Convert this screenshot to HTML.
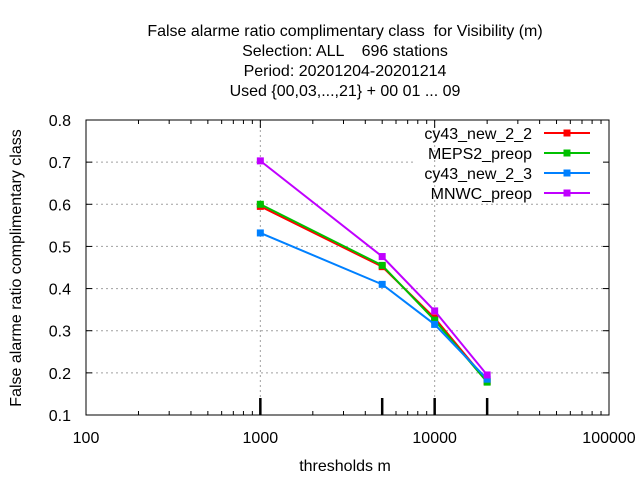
<!DOCTYPE html>
<html><head><meta charset="utf-8"><style>body{margin:0;background:#fff}svg{display:block;font-family:"Liberation Sans",sans-serif}text{white-space:pre}</style></head>
<body>
<svg id="c" width="640" height="480"></svg>
<script>
const thresholds=[1000,5000,10000,20000];
const seriesNames=["cy43_new_2_2","MEPS2_preop","cy43_new_2_3","MNWC_preop"];
const colors=["#ff0000","#00c000","#0080ff","#c000ff"];
const s1=[0.595,0.452,0.330,0.180];
const s2=[0.600,0.455,0.325,0.178];
const s3=[0.532,0.410,0.315,0.185];
const s4=[0.703,0.476,0.347,0.195];
const yTicks=[0.1,0.2,0.3,0.4,0.5,0.6,0.7,0.8];
const xTicks=[100,1000,10000,100000];
const L=86,R=609,T=120,B=415;
const X=v=>L+(Math.log10(v)-2)/3*(R-L);
const Y=v=>B-(v-0.1)/0.7*(B-T);
const svg=document.getElementById('c');const NS="http://www.w3.org/2000/svg";
function add(tag,at,txt){const e=document.createElementNS(NS,tag);for(const k in at)e.setAttribute(k,at[k]);if(txt!==undefined)e.textContent=txt;svg.appendChild(e);return e;}
const titles=["False alarme ratio complimentary class  for Visibility (m)","Selection: ALL    696 stations","Period: 20201204-20201214","Used {00,03,...,21} + 00 01 ... 09"];
titles.forEach((t,i)=>{const e=add('text',{x:345,y:36+i*20,'text-anchor':'middle','font-size':16,'xml:space':'preserve'},t);});
yTicks.forEach(v=>{const y=Y(v);
 if(v>0.1&&v<0.8){const x2=(v>=0.65)?415:R;const g=add('line',{x1:L,y1:y,x2:x2,y2:y,stroke:'#a0a0a0','stroke-dasharray':'2,3'});
 add('line',{x1:L,y1:y,x2:L+6,y2:y,stroke:'#000'});add('line',{x1:R,y1:y,x2:R-6,y2:y,stroke:'#000'});}
 const t=add('text',{x:71,y:y+6,'text-anchor':'end','font-size':16},v.toFixed(1));});
[1000,10000].forEach(v=>{const g=add('line',{x1:X(v),y1:T,x2:X(v),y2:B,stroke:'#a0a0a0','stroke-dasharray':'2,3'});});
for(let d=100;d<100000;d*=10)for(let m=2;m<10;m++){const x=X(d*m);add('line',{x1:x,y1:B,x2:x,y2:B-4,stroke:'#000'});add('line',{x1:x,y1:T,x2:x,y2:T+4,stroke:'#000'});}
xTicks.forEach(v=>{const x=X(v);add('line',{x1:x,y1:B,x2:x,y2:B-8,stroke:'#000'});add('line',{x1:x,y1:T,x2:x,y2:T+8,stroke:'#000'});
 const t=add('text',{x:x,y:B+28,'text-anchor':'middle','font-size':16},String(v));});
thresholds.forEach(v=>{const m=add('line',{x1:X(v),y1:B,x2:X(v),y2:B-17,stroke:'#000','stroke-width':2.5});});
const fr=add('rect',{x:L,y:T,width:R-L,height:B-T,fill:'none',stroke:'#000'});
const xt=add('text',{x:345,y:471,'text-anchor':'middle','font-size':16},'thresholds m');
const yt=add('text',{x:0,y:0,'text-anchor':'middle','font-size':16,transform:'translate(21,268) rotate(-90)'},'False alarme ratio complimentary class');
[s1,s2,s3,s4].forEach((s,i)=>{const pts=s.map((v,j)=>X(thresholds[j])+','+Y(v)).join(' ');
 const pl=add('polyline',{points:pts,fill:'none',stroke:colors[i],'stroke-width':2});
 s.forEach((v,j)=>{const p=add('rect',{x:X(thresholds[j])-3.5,y:Y(v)-3.5,width:7,height:7,fill:colors[i]});});
 const ly=133+i*20;
 const lt=add('text',{x:532,y:ly+6,'text-anchor':'end','font-size':16},seriesNames[i]);
 add('line',{x1:544,y1:ly,x2:590,y2:ly,stroke:colors[i],'stroke-width':2});add('rect',{x:563.5,y:ly-3.5,width:7,height:7,fill:colors[i]});});
</script>
</body></html>
